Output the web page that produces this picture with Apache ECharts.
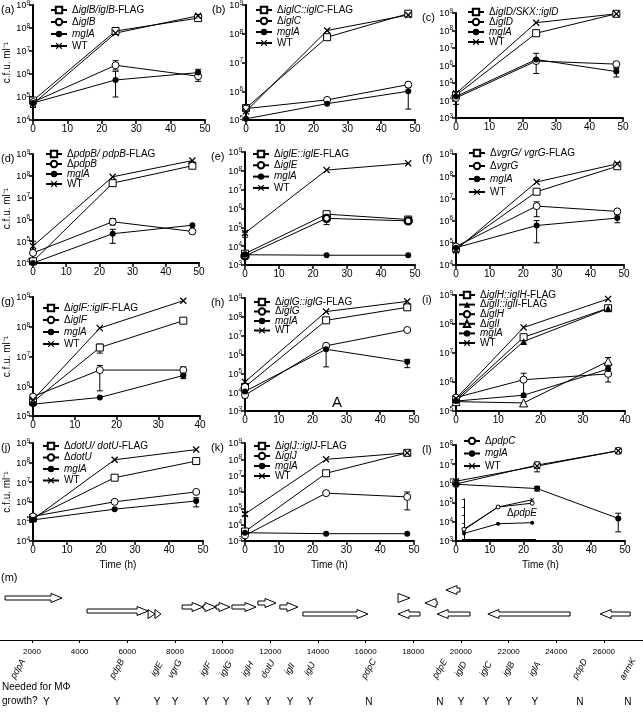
<!DOCTYPE html>
<html><head><meta charset="utf-8">
<script src="https://cdn.jsdelivr.net/npm/echarts@6/dist/echarts.min.js"></script>
<style>html,body{margin:0;padding:0;background:#fff}#c{width:643px;height:712px}</style>
</head><body><div id="c"></div><script>
// ---------------- DATA ----------------
const time48 = [0, 24, 48];
const time36 = [0, 16, 36];

// (a)
const a_comp = [7e4, 7.4e7, 2.7e8];
const a_del  = [6e4, 2.4e6, 8e5];
const a_mglA = [5.5e4, 5.5e5, 1.15e6];
const a_WT   = [5e4, 6e7, 3.4e8];
const a_err  = [[0,3.5e4,7e4],[24,1.5e6,3.8e6],[24,1e5,1.3e6],[48,4.8e5,1.3e6],[48,9e5,1.6e6]];
// (b)
const b_comp = [2.6e5, 7.6e7, 5e8];
const b_del  = [2.5e5, 5e5, 1.7e6];
const b_mglA = [1.1e5, 3.7e5, 1e6];
const b_WT   = [2e5, 1.3e8, 4.5e8];
const b_err  = [[48,2.4e5,1.4e6]];
// (c)
const c_comp = [2e4, 7e7, 9e8];
const c_del  = [1.4e4, 1.8e6, 1.2e6];
const c_mglA = [1.7e4, 2.2e6, 4.5e5];
const c_WT   = [2.5e4, 2.8e8, 9e8];
const c_err  = [[0,6e3,2.5e4],[24,3.5e5,5e6],[48,7.5e5,1.5e6],[48,2.2e5,6.5e5]];
// (d)
const d_comp = [1.2e4, 4.6e7, 2.9e8];
const d_del  = [2.9e4, 7.8e5, 2.8e5];
const d_mglA = [1e4, 2.2e5, 5.4e5];
const d_WT   = [6e4, 9e7, 5e8];
const d_err  = [[0,4e4,1e5],[24,5.5e5,1.1e6],[24,8e4,3.5e5]];
// (e)
const e_comp = [4e3, 5e5, 2.6e5];
const e_del  = [3e3, 3e5, 2.2e5];
const e_mglA = [3.5e3, 3.3e3, 3.3e3];
const e_WT   = [5e4, 1.1e8, 2.5e8];
const e_err  = [[0,3e4,5.5e4],[24,1.4e5,3.5e5]];
// (f)
const f_comp = [5.6e4, 2e7, 2.8e8];
const f_del  = [6.8e4, 4.5e6, 2.6e6];
const f_mglA = [6e4, 6e5, 1.3e6];
const f_WT   = [4.8e4, 5.5e7, 3.6e8];
const f_err  = [[0,3.5e4,6e4],[24,1.5e6,7e6],[24,1e5,1e6],[48,8e5,1.8e6]];
// (g)
const g_comp = [3e5, 2e7, 1.6e8];
const g_del  = [4.5e5, 3.5e6, 3.5e6];
const g_mglA = [2.5e5, 4.2e5, 2.3e6];
const g_WT   = [3.5e5, 9e7, 7.5e8];
const g_err  = [[16,1.3e7,2.6e7],[16,7e5,5e6],[36,2.5e6,4.5e6],[36,1.8e6,2.8e6]];
// (h)
const h_comp = [1.9e4, 6.5e7, 3.2e8];
const h_del  = [7e3, 2.9e6, 2e7];
const h_mglA = [1.1e4, 1.9e6, 4.1e5];
const h_WT   = [3.5e4, 1.9e8, 6.6e8];
const h_err  = [[0,5e3,1e4],[24,2.2e5,2.5e6],[48,2e5,5.5e5]];
// (i)
const i_compH = [2.5e5, 3.5e7, 3.5e8];
const i_compI = [2.2e5, 2.5e7, 3.4e8];
const i_delH  = [2.9e5, 1.2e6, 1.9e6];
const i_delI  = [2.1e5, 1.9e5, 5.2e6];
const i_mglA  = [2.2e5, 3.5e5, 2.8e6];
const i_WT    = [2.7e5, 7.6e7, 7.3e8];
const i_err   = [[16,3e5,2e6],[36,1e6,2.8e6],[36,3.5e6,7e6]];
// (j)
const j_comp = [1.5e5, 1.7e7, 1.2e8];
const j_del  = [1.8e5, 1e6, 3.2e6];
const j_mglA = [1.2e5, 4.2e5, 1.1e6];
const j_WT   = [1.3e5, 1.4e8, 4.6e8];
const j_err  = [[0,1e5,1.8e5],[48,5.5e5,1.6e6]];
// (k)
const k_comp = [3.8e3, 1.4e7, 2.5e8];
const k_del  = [2.2e3, 8.5e5, 5e5];
const k_mglA = [3.2e3, 2.8e3, 2.8e3];
const k_WT   = [4.5e4, 1e8, 2.5e8];
const k_err  = [[48,8e4,1e6],[0,3.5e4,5.5e4],[0,1.8e3,4.5e3]];
// (l)
const l_del  = [9.3e5, 9e6, 5e7];
const l_mglA = [9e5, 5.4e5, 1.5e4];
const l_WT   = [1.3e6, 8e6, 5e7];
const l_err  = [[0,7e5,1.5e6],[24,4e6,1.3e7],[24,4e5,7e5],[48,3.5e7,6.5e7],[48,3e3,2.8e4]];
// (l) inset, ΔpdpE
const inset_time = [0, 24, 48];
const inset_WT   = [1.4e4, 1e7, 8e7];
const inset_pdpE = [1.7e4, 1e7, 3e7];
const inset_mglA = [5e3, 8e4, 1.1e5];

// (m) gene map (bp)
const geneNames  = ['pdpA','pdpB','iglE','vgrG','iglF','iglG','iglH','dotU','iglI','iglJ','pdpC','pdpE','iglD','iglC','iglB','iglA','pdpD','anmK'];
const geneStart  = [870,4310,6870,7160,8300,9180,9720,10390,11480,12400,13370,17360,17360,18490,19000,19370,21130,25840];
const geneEnd    = [3260,6870,7160,7410,9180,9720,10310,11400,12240,13160,16100,17860,18280,19000,20380,19960,24580,27100];
const geneStrand = [1,1,1,1,1,1,1,1,1,1,1,1,-1,-1,-1,-1,-1,-1];
const geneNeeded = ['Y','Y','Y','Y','Y','Y','Y','Y','Y','Y','N','N','Y','Y','Y','Y','N','N'];
const mapTicks   = [2000,4000,6000,8000,10000,12000,14000,16000,18000,20000,22000,24000,26000];

// ---------------- LAYOUT ----------------
const FONT = '"Liberation Sans", Arial, Helvetica, sans-serif';
const geneLane = [1,4,5,5,3,3,3,3,2,3,5,1,5,2,5,0,5,5];
const laneY = [5, 13, 18, 22, 26, 29];
// label anchor positions along the map (bp), spread out for legibility
const nameAt = [1413,5567,7245,8000,9301,10140,11063,11902,12825,13665,16141,19120,20001,21050,22015,23106,24994,27008];
const ynAt   = [2600,5567,7245,8000,9301,10140,11063,11902,12825,13665,16141,19120,20001,21050,22015,23106,24994,27008];

const panels = [
 {id:'a', box:[33,5,172,115], xmax:50, ymin:1e4, ymax:1e9, t:time48, ylab:true, leg:[50,5,12],
  s:[['Δ*iglB/iglB*-FLAG',a_comp,'sq'],['Δ*iglB*',a_del,'oc'],['*mglA*',a_mglA,'fc'],['WT',a_WT,'x']], err:a_err},
 {id:'b', box:[246,5,169,115], xmax:50, ymin:1e5, ymax:1e9, t:time48, leg:[255,5,11],
  s:[['Δ*iglC::iglC*-FLAG',b_comp,'sq'],['Δ*iglC*',b_del,'oc'],['*mglA*',b_mglA,'fc'],['WT',b_WT,'x']], err:b_err},
 {id:'c', box:[456,13,167,105], xmax:50, ymin:1e3, ymax:1e9, t:time48, leg:[467,7,10],
  s:[['Δ*iglD/SKX::iglD*',c_comp,'sq'],['Δ*iglD*',c_del,'oc'],['*mglA*',c_mglA,'fc'],['WT',c_WT,'x']], err:c_err},
 {id:'d', box:[33,154,166,109], xmax:50, ymin:1e4, ymax:1e9, t:time48, ylab:true, leg:[45,149,10],
  s:[['Δ*pdpB/ pdpB*-FLAG',d_comp,'sq'],['Δ*pdpB*',d_del,'oc'],['*mglA*',d_mglA,'fc'],['WT',d_WT,'x']], err:d_err},
 {id:'e', box:[245,152,170,113], xmax:50, ymin:1e3, ymax:1e9, t:time48, leg:[252,149,11.3],
  s:[['Δ*iglE::iglE*-FLAG',e_comp,'sq'],['Δ*iglE*',e_del,'toc'],['*mglA*',e_mglA,'fc'],['WT',e_WT,'x']], err:e_err},
 {id:'f', box:[456,154,168,111], xmax:50, ymin:1e4, ymax:1e9, t:time48, leg:[468,148,13],
  s:[['Δ*vgrG/ vgrG*-FLAG',f_comp,'sq'],['Δ*vgrG*',f_del,'oc'],['*mglA*',f_mglA,'fc'],['WT',f_WT,'x']], err:f_err},
 {id:'g', box:[33,297,167,119], xmax:40, ymin:1e5, ymax:1e9, t:time36, ylab:true, leg:[42,303,12],
  s:[['Δ*iglF::iglF*-FLAG',g_comp,'sq'],['Δ*iglF*',g_del,'oc'],['*mglA*',g_mglA,'fc'],['WT',g_WT,'x']], err:g_err},
 {id:'h', box:[245,298,169,113], xmax:50, ymin:1e3, ymax:1e9, t:time48, leg:[253,297,9.5],
  s:[['Δ*iglG::iglG*-FLAG',h_comp,'sq'],['Δ*iglG*',h_del,'oc'],['*mglA*',h_mglA,'fc'],['WT',h_WT,'x']], err:h_err},
 {id:'i', box:[456,295,169,116], xmax:40, ymin:1e5, ymax:1e9, t:time36, leg:[458,290,9.6],
  s:[['Δ*iglH::iglH*-FLAG',i_compH,'sq'],['Δ*iglI::iglI*-FLAG',i_compI,'ft'],['Δ*iglH*',i_delH,'oc'],['Δ*iglI*',i_delI,'ot'],['*mglA*',i_mglA,'fc'],['WT',i_WT,'x']], err:i_err},
 {id:'j', box:[33,443,170,98], xmax:50, ymin:1e4, ymax:1e9, t:time48, ylab:true, time:true, leg:[42,441,11.5],
  s:[['Δ*dotU/ dotU*-FLAG',j_comp,'sq'],['Δ*dotU*',j_del,'oc'],['*mglA*',j_mglA,'fc'],['WT',j_WT,'x']], err:j_err},
 {id:'k', box:[245,443,169,98], xmax:50, ymin:1e3, ymax:1e9, t:time48, time:true, leg:[253,441,10],
  s:[['Δ*iglJ::iglJ*-FLAG',k_comp,'sq'],['Δ*iglJ*',k_del,'oc'],['*mglA*',k_mglA,'fc'],['WT',k_WT,'x']], err:k_err},
 {id:'l', box:[456,445,169,96], xmax:50, ymin:1e3, ymax:1e8, t:time48, time:true, leg:[463,436,12.5],
  s:[['Δ*pdpC*',l_del,'oc'],['*mglA*',l_mglA,'fc'],['WT',l_WT,'x']], err:l_err}
];

const XPATH = 'path://M0,1.3L1.3,0L5,3.7L8.7,0L10,1.3L6.3,5L10,8.7L8.7,10L5,6.3L1.3,10L0,8.7L3.7,5Z';
function markerStyle(kind) {
  switch (kind) {
    case 'sq':  return {symbol:'rect', symbolSize:7, itemStyle:{color:'#fff', borderColor:'#000', borderWidth:1}};
    case 'oc':  return {symbol:'circle', symbolSize:7, itemStyle:{color:'#fff', borderColor:'#000', borderWidth:1}};
    case 'toc': return {symbol:'circle', symbolSize:7, itemStyle:{color:'#fff', borderColor:'#000', borderWidth:2.4}};
    case 'fc':  return {symbol:'circle', symbolSize:6, itemStyle:{color:'#000', borderColor:'#000', borderWidth:0}};
    case 'ft':  return {symbol:'triangle', symbolSize:7, itemStyle:{color:'#000', borderColor:'#000', borderWidth:0}};
    case 'ot':  return {symbol:'triangle', symbolSize:8, itemStyle:{color:'#fff', borderColor:'#000', borderWidth:1}};
    case 'x':   return {symbol:XPATH, symbolSize:7, itemStyle:{color:'#000', borderWidth:0}};
  }
}
function pow10(v) { const e = Math.round(Math.log10(v)); return '{b|10}{s|' + e + '}'; }
const SUPRICH = {b:{fontSize:9, fontFamily:FONT, color:'#000', verticalAlign:'bottom', lineHeight:11},
                 s:{fontSize:6.5, fontFamily:FONT, color:'#000', verticalAlign:'top', lineHeight:7}};
function markup(s) { return s.split('*').map((seg,k) => seg === '' ? '' : (k % 2 ? '{i|' + seg + '}' : '{n|' + seg + '}')).join(''); }
const RICH = {n:{fontSize:10, fontFamily:FONT, color:'#000'}, i:{fontSize:10, fontFamily:FONT, fontStyle:'italic', color:'#000'}};

function errItem(params, api) {
  const x = api.value(0), lo = api.value(1), hi = api.value(2);
  const pl = api.coord([x, lo]), ph = api.coord([x, hi]);
  const w = 3, st = {stroke:'#000', lineWidth:1};
  return {type:'group', children:[
    {type:'line', shape:{x1:pl[0], y1:pl[1], x2:ph[0], y2:ph[1]}, style:st},
    {type:'line', shape:{x1:pl[0]-w, y1:pl[1], x2:pl[0]+w, y2:pl[1]}, style:st},
    {type:'line', shape:{x1:ph[0]-w, y1:ph[1], x2:ph[0]+w, y2:ph[1]}, style:st}
  ]};
}

const axisLineBold = {show:true, onZero:false, lineStyle:{color:'#000', width:2}};
const option = {animation:false, backgroundColor:'#fff', grid:[], xAxis:[], yAxis:[], series:[], legend:[], graphic:[]};

panels.forEach((p, gi) => {
  option.grid.push({left:p.box[0], top:p.box[1], width:p.box[2], height:p.box[3], containLabel:false, outerBoundsMode:'none'});
  option.xAxis.push({type:'value', gridIndex:gi, min:0, max:p.xmax, interval:10,
    axisLine:axisLineBold, axisTick:{show:true, length:4, lineStyle:{color:'#000', width:1.5}},
    axisLabel:{fontSize:10, color:'#000', fontFamily:FONT, margin:4}, splitLine:{show:false},
    name: p.time ? 'Time (h)' : '', nameLocation:'middle', nameGap:19,
    nameTextStyle:{fontSize:10, color:'#000', fontFamily:FONT}});
  option.yAxis.push({type:'log', logBase:10, gridIndex:gi, min:p.ymin, max:p.ymax,
    axisLine:axisLineBold, axisTick:{show:true, length:4, lineStyle:{color:'#000', width:1.5}},
    axisLabel:{formatter:pow10, rich:SUPRICH, fontSize:9, color:'#000', fontFamily:FONT, margin:3}, splitLine:{show:false}, minorTick:{show:false},
    name: p.ylab ? 'c.f.u. ml⁻¹' : '', nameLocation:'middle', nameRotate:90, nameGap:21,
    nameTextStyle:{fontSize:10, color:'#000', fontFamily:FONT}});
  const names = [];
  p.s.forEach(([label, vals, kind]) => {
    const nm = p.id + '#' + label;
    names.push(nm);
    option.series.push(Object.assign({type:'line', name:nm, xAxisIndex:gi, yAxisIndex:gi, clip:false, z:3,
      data:p.t.map((t, k) => [t, vals[k]]), lineStyle:{color:'#000', width:1}}, markerStyle(kind)));
  });
  option.series.push({type:'custom', xAxisIndex:gi, yAxisIndex:gi, renderItem:errItem, data:p.err, encode:{x:0, y:[1,2]}, z:2, clip:false});
  option.legend.push({data:names, orient:'vertical', left:p.leg[0], top:p.leg[1], itemGap:p.leg[2]-10, itemWidth:16, itemHeight:8,
    padding:0, selectedMode:false, textStyle:{fontSize:10, lineHeight:10, color:'#000', fontFamily:FONT, rich:RICH},
    formatter: n => markup(n.split('#')[1])});
  option.graphic.push({type:'text', left:p.box[0] < 100 ? 1 : p.box[0] - 34, top:p.box[1] - 1,
    style:{text:'(' + p.id + ')', font:'11px ' + FONT, fill:'#000'}});
});

// inset in (l)
const gIn = option.grid.length;
option.grid.push({left:464, top:499, width:71, height:40, containLabel:false, outerBoundsMode:'none'});
option.xAxis.push({type:'value', gridIndex:gIn, min:0, max:50, interval:5, axisLine:{show:true, onZero:false, lineStyle:{color:'#000', width:1}},
  axisTick:{show:true, length:2, lineStyle:{color:'#000', width:0.8}}, axisLabel:{show:false}, splitLine:{show:false}});
option.yAxis.push({type:'log', logBase:10, gridIndex:gIn, min:1e3, max:1e8, axisLine:{show:true, lineStyle:{color:'#000', width:1}},
  axisTick:{show:true, length:2, lineStyle:{color:'#000', width:0.8}}, axisLabel:{show:false}, splitLine:{show:false}});
[[inset_WT,'x'],[inset_pdpE,'oc'],[inset_mglA,'fc']].forEach(([vals, kind], k) => {
  const m = markerStyle(kind);
  m.symbolSize = 4;
  option.series.push(Object.assign({type:'line', name:'inset' + k, xAxisIndex:gIn, yAxisIndex:gIn, clip:false,
    data:inset_time.map((t, q) => [t, vals[q]]), lineStyle:{color:'#000', width:1}}, m));
});
option.graphic.push({type:'text', left:507, top:508, style:{rich:RICH, text:markup('Δ*pdpE*'), font:'10px ' + FONT}});
// "A" in (h)
option.graphic.push({type:'text', left:332, top:395, style:{text:'A', font:'15px ' + FONT, fill:'#000'}});

// gene map (m)
const gMap = option.grid.length;
option.grid.push({left:0, top:585, width:643, height:55, containLabel:false, outerBoundsMode:'none'});
option.xAxis.push({type:'value', gridIndex:gMap, min:657, max:27640, interval:2000,
  axisLine:{show:true, onZero:false, lineStyle:{color:'#000', width:1}},
  axisTick:{show:true, length:3, lineStyle:{color:'#000', width:1}, customValues:mapTicks},
  axisLabel:{fontSize:8, color:'#000', fontFamily:FONT, margin:8, customValues:mapTicks, formatter:v => String(v)}, splitLine:{show:false}});
option.yAxis.push({type:'value', gridIndex:gMap, min:0, max:55, inverse:true, show:false});
function geneItem(params, api) {
  const i = params.dataIndex;
  const s = api.value(0), e = api.value(1), strand = api.value(2);
  const yv = laneY[geneLane[i]];
  const p1 = api.coord([s, yv]), p2 = api.coord([e, yv]);
  const y = p1[1];
  let xa = p1[0], xb = p2[0];
  const len = xb - xa;
  const hh = 4.5, sh = 2, head = Math.min(11, len);
  let pts;
  if (strand > 0) {
    pts = len <= 12 ? [[xa, y-hh],[xb, y],[xa, y+hh]]
      : [[xa, y-sh],[xb-head, y-sh],[xb-head, y-hh],[xb, y],[xb-head, y+hh],[xb-head, y+sh],[xa, y+sh]];
  } else {
    pts = len <= 12 ? [[xb, y-hh],[xa, y],[xb, y+hh]]
      : [[xb, y-sh],[xa+head, y-sh],[xa+head, y-hh],[xa, y],[xa+head, y+hh],[xa+head, y+sh],[xb, y+sh]];
  }
  const nx = api.coord([nameAt[i], 0])[0];
  const yx = api.coord([ynAt[i], 0])[0];
  return {type:'group', children:[
    {type:'polygon', shape:{points:pts}, style:{fill:'#fff', stroke:'#000', lineWidth:1}},
    {type:'text', x:nx, y:669, rotation:Math.PI/180*60,
      style:{text:geneNames[i], font:'italic 9px ' + FONT, fill:'#000', align:'center', verticalAlign:'middle'}},
    {type:'text', x:yx, y:702, style:{text:geneNeeded[i], font:'10px ' + FONT, fill:'#000', align:'center', verticalAlign:'middle'}}
  ]};
}
option.series.push({type:'custom', xAxisIndex:gMap, yAxisIndex:gMap, renderItem:geneItem, clip:false,
  data:geneNames.map((g, i) => [geneStart[i], geneEnd[i], geneStrand[i]]), encode:{x:[0,1]}});
option.graphic.push({type:'text', left:1, top:572, style:{text:'(m)', font:'11px ' + FONT, fill:'#000'}});
option.graphic.push({type:'text', left:2, top:682, style:{text:'Needed for MΦ', font:'10px ' + FONT, fill:'#000'}});
option.graphic.push({type:'text', left:2, top:696, style:{text:'growth?', font:'10px ' + FONT, fill:'#000'}});

const chart = echarts.init(document.getElementById('c'), null, {renderer:'canvas'});
chart.setOption(option);
</script></body></html>
